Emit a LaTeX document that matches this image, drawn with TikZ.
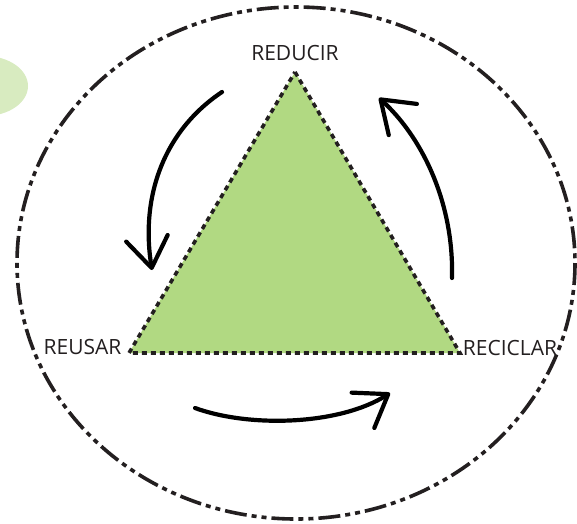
\documentclass[tikz,border=0pt]{standalone}
\usepackage{fontspec}
\setmainfont{Open Sans}
\usetikzlibrary{arrows.meta}
\definecolor{trifill}{HTML}{B1D982}
\definecolor{blobfill}{HTML}{D8EBC0}
\definecolor{ink}{HTML}{231F20}
\tikzset{
  ring/.style={draw=ink, line width=3.6pt, dash pattern=on 22pt off 5pt on 5pt off 5pt on 5pt off 5pt},
  tri/.style={fill=trifill, draw=ink, line width=3.6pt, dash pattern=on 5pt off 4pt},
  lbl/.style={inner sep=0pt, font=\fontsize{21}{24}\selectfont, text=ink},
  cyc/.style={draw=black, line width=4.2pt, line cap=round,
    -{Straight Barb[length=30pt, width=42pt, round]}}
}
\begin{document}
\begin{tikzpicture}[x=1pt, y=-1pt]
\useasboundingbox (0,0) rectangle (577,523);
% decorative blob
\fill[blobfill] (-15,86) ellipse [x radius=43, y radius=30];
% outer ring
\draw[ring] (296,263) ellipse [x radius=279, y radius=256];
% triangle
\coordinate (top) at (295,72);
\coordinate (bl) at (129,353);
\coordinate (br) at (460,353);
\draw[tri] (top) -- (br) -- (bl) -- cycle;
% labels
\node[lbl] (reducir) at (295,52.5) {REDUCIR};
\node[lbl] (reusar) at (82.5,346.5) {REUSAR};
\node[lbl] (reciclar) at (510,347.5) {RECICLAR};
% cycle arrows
\coordinate (a1s) at (222,92);
\coordinate (a1e) at (152,270);
\coordinate (a2s) at (452,278);
\coordinate (a2e) at (379,98);
\coordinate (a3s) at (195,408);
\coordinate (a3e) at (390,393);
\draw[cyc] (a1s) .. controls (165,130) and (140,195) .. (a1e);
\draw[cyc] (a2s) .. controls (454,200) and (420,135) .. (a2e);
\draw[cyc] (a3s) .. controls (250,428) and (340,425) .. (a3e);
\end{tikzpicture}
\end{document}
